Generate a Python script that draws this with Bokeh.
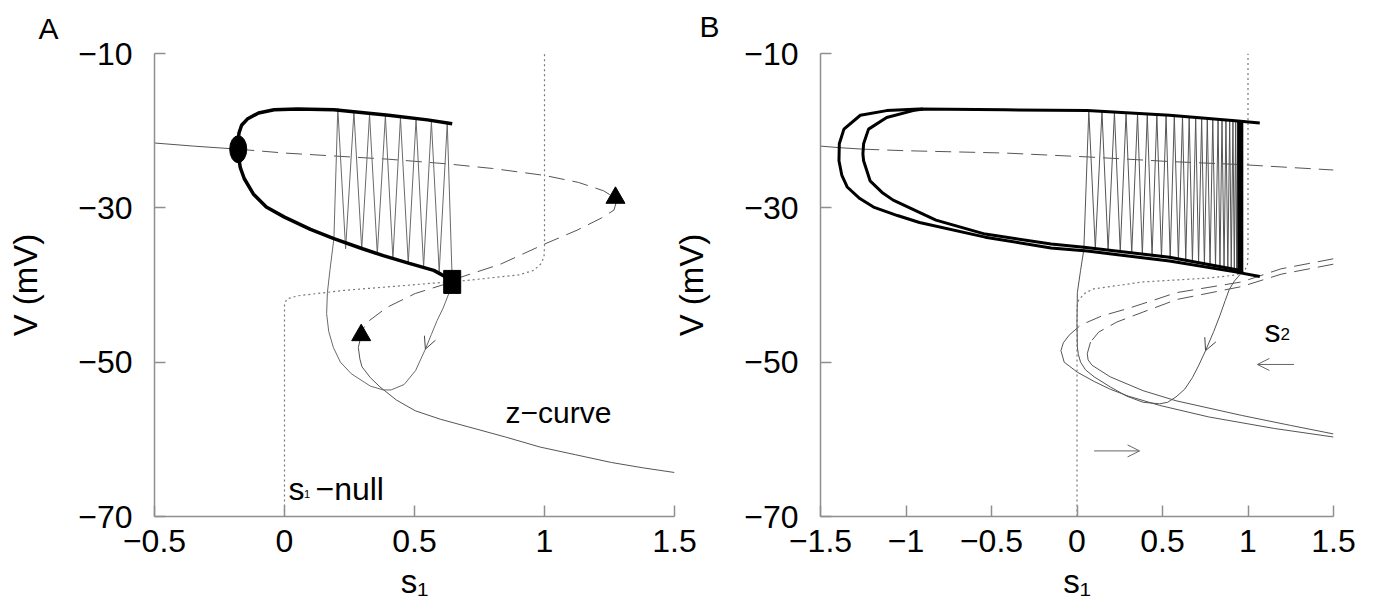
from bokeh.plotting import figure
from bokeh.layouts import row
from bokeh.models import Range1d, FixedTicker, Label, Arrow, OpenHead, Title
from bokeh.embed import file_html
from bokeh.resources import INLINE

FONT = "Liberation Sans"

# ---------------- Panel A data ----------------
a_xticks = [-0.5, 0, 0.5, 1, 1.5]
a_xticklabels = ["\u22120.5", "0", "0.5", "1", "1.5"]
yticks = [-70, -50, -30, -10]
yticklabels = ["\u221270", "\u221250", "\u221230", "\u221210"]

# thick periodic-orbit envelope
a_env_s = [0.645, 0.55, 0.40, 0.19, 0.05, -0.04, -0.10, -0.143, -0.165, -0.175, -0.179, -0.178,
           -0.176, -0.170, -0.155, -0.120, -0.070, 0.0, 0.10, 0.19, 0.30, 0.38, 0.48, 0.574, 0.645]
a_env_v = [-19.1, -18.6, -18.0, -17.3, -17.2, -17.3, -17.7, -18.5, -19.3, -20.3, -21.5, -22.4,
           -23.5, -24.8, -26.2, -28.2, -29.9, -31.2, -32.8, -34.0, -35.3, -36.2, -37.2, -38.1, -39.4]
# z-curve: stable upper, unstable middle (dashed), stable lower
a_zup_s = [-0.5, -0.35, -0.178]
a_zup_v = [-21.6, -22.0, -22.4]
a_zmid_s = [-0.178, 0.0, 0.2, 0.4, 0.625, 0.8, 1.0, 1.13, 1.228, 1.265, 1.275, 1.267, 1.22, 1.125,
            1.0, 0.831, 0.677, 0.645, 0.503, 0.394, 0.311, 0.295]
a_zmid_v = [-22.4, -22.9, -23.3, -23.7, -24.3, -24.9, -25.8, -26.7, -27.8, -28.6, -29.4, -30.3, -31.3, -32.9,
            -34.7, -37.3, -39.0, -39.6, -41.1, -42.9, -45.0, -46.5]
a_zlow_s = [0.295, 0.284, 0.29, 0.298, 0.33, 0.367, 0.43, 0.503, 0.6, 0.709, 0.85, 0.983, 1.12, 1.257, 1.38, 1.5]
a_zlow_v = [-46.5, -48.1, -49.6, -50.6, -52.0, -53.2, -54.9, -56.3, -57.4, -58.4, -59.7, -61.0, -62.0, -63.0, -63.7, -64.3]
# s1 nullcline
a_null_s = [0.0, 0.0, 0.01, 0.051, 0.229, 0.45, 0.702, 0.9, 0.959, 0.985, 0.998, 1.0, 1.0]
a_null_v = [-70, -42.4, -41.8, -41.4, -40.7, -40.1, -39.4, -38.7, -38.1, -37.3, -36.4, -35.0, -10]
# trajectory: silent phase
a_tr_s = [0.645, 0.632, 0.61, 0.587, 0.565, 0.542, 0.504, 0.46, 0.41, 0.38, 0.33, 0.257, 0.215, 0.188,
          0.17, 0.162, 0.165, 0.175, 0.19]
a_tr_v = [-39.6, -41.1, -43.0, -44.6, -46.4, -48.3, -51.1, -52.9, -53.6, -53.6, -53.1, -51.5, -50.0, -48.1,
          -46.0, -43.7, -41.0, -38.0, -34.0]
# trajectory: spikes (peaks and troughs)
a_spk_top_s = [0.205, 0.267, 0.327, 0.388, 0.446, 0.506, 0.565, 0.626]
a_spk_top_v = [-17.1, -17.6, -17.9, -18.1, -18.3, -18.5, -18.8, -19.0]
a_spk_bot_s = [0.235, 0.297, 0.357, 0.417, 0.476, 0.535, 0.595, 0.645]
a_spk_bot_v = [-35.3, -35.4, -36.0, -36.6, -37.2, -37.7, -38.3, -39.4]
# special points
a_hopf = (-0.178, -22.4)
a_hc = (0.645, -39.6)
a_sn_s = [1.273, 0.295]
a_sn_v = [-28.7, -46.5]
a_arrow = (0.565, -46.4, 0.542, -48.3)

# ---------------- Panel B data ----------------
b_xticks = [-1.5, -1, -0.5, 0, 0.5, 1, 1.5]
b_xticklabels = ["\u22121.5", "\u22121", "\u22120.5", "0", "0.5", "1", "1.5"]

b_out_s = [1.069, 0.925, 0.541, 0.06, -0.421, -0.921, -1.113, -1.267, -1.363, -1.39, -1.392, -1.375, -1.344,
           -1.27, -1.19, -1.05, -0.921, -0.537, -0.152, 0.06, 0.541, 0.925, 1.069]
b_out_v = [-19.0, -18.7, -18.0, -17.4, -17.3, -17.2, -17.4, -18.0, -19.8, -21.7, -23.9, -25.8, -27.3,
           -28.8, -29.9, -31.0, -31.9, -33.8, -35.2, -35.6, -36.9, -38.3, -38.9]
b_in_s = [-0.9, -0.959, -1.113, -1.219, -1.248, -1.252, -1.248, -1.21, -1.14, -1.075, -0.825, -0.537, -0.152,
          0.04, 0.541, 0.95]
b_in_v = [-17.2, -17.4, -18.3, -19.8, -21.7, -23.0, -23.9, -26.5, -28.0, -29.0, -31.6, -33.4, -34.7,
          -35.1, -36.4, -38.1]
b_bar_s = [0.955, 0.955]
b_bar_v = [-18.7, -38.5]
b_zup_s = [-1.5, -1.392, -1.25]
b_zup_v = [-22.0, -22.2, -22.4]
b_zupd_s = [-1.25, -1.0, -0.421, 0.06, 0.541, 0.963, 1.5]
b_zupd_v = [-22.4, -22.6, -22.9, -23.4, -24.0, -24.4, -25.1]
b_z1d_s = [1.5, 1.194, 0.963, 0.579, 0.444, 0.29, 0.146, 0.021, -0.046]
b_z1d_v = [-36.6, -37.9, -39.6, -41.0, -42.0, -43.1, -44.0, -45.2, -46.5]
b_z1_s = [-0.046, -0.08, -0.094, -0.075, 0.002, 0.1, 0.194, 0.3, 0.483, 0.771, 1.156, 1.5]
b_z1_v = [-46.5, -47.5, -48.5, -50.0, -51.3, -52.5, -53.5, -54.4, -55.6, -57.1, -58.6, -59.7]
b_z2d_s = [1.5, 1.194, 0.963, 0.579, 0.521, 0.387, 0.233, 0.127, 0.079]
b_z2d_v = [-37.3, -38.6, -40.2, -41.9, -42.4, -43.5, -44.8, -46.1, -47.4]
b_z2_s = [0.079, 0.06, 0.065, 0.088, 0.194, 0.387, 0.579, 0.963, 1.25, 1.5]
b_z2_v = [-47.4, -48.9, -49.7, -50.4, -51.9, -53.7, -55.0, -56.9, -58.2, -59.3]
b_null_s = [0.0, 0.0, 0.01, 0.05, 0.098, 0.387, 0.771, 0.93, 0.98, 0.997, 1.0, 1.0]
b_null_v = [-70, -42.8, -41.9, -41.0, -40.5, -39.6, -39.1, -38.7, -38.2, -37.3, -36.0, -10]
b_tr_s = [0.955, 0.92, 0.89, 0.867, 0.835, 0.8, 0.752, 0.71, 0.675, 0.63, 0.579, 0.53, 0.483, 0.387, 0.29,
          0.194, 0.1, 0.05, 0.021, 0.008, 0.002, 0.0, 0.002, 0.021, 0.04]
b_tr_v = [-38.6, -39.5, -40.6, -42.0, -44.0, -46.0, -48.5, -50.5, -52.0, -53.5, -54.5, -55.2, -55.4, -55.2, -54.4,
          -53.2, -51.9, -51.0, -50.0, -49.0, -48.0, -45.0, -41.0, -38.1, -35.4]
b_spk_top_s = [0.069, 0.146, 0.219, 0.287, 0.354, 0.411, 0.467, 0.521, 0.569, 0.617, 0.656, 0.694, 0.729,
               0.762, 0.794, 0.825, 0.848, 0.871, 0.893, 0.912, 0.928, 0.94]
b_spk_top_v = [-17.4, -17.5, -17.6, -17.7, -17.8, -17.85, -17.9, -18.0, -18.05, -18.15, -18.2, -18.3, -18.35,
               -18.45, -18.5, -18.55, -18.6, -18.65, -18.7, -18.7, -18.7, -18.7]
b_spk_bot_s = [0.107, 0.182, 0.253, 0.32, 0.382, 0.439, 0.494, 0.545, 0.593, 0.636, 0.675, 0.711, 0.745,
               0.778, 0.81, 0.836, 0.86, 0.882, 0.902, 0.92, 0.934, 0.947]
b_spk_bot_v = [-35.3, -35.5, -35.7, -35.9, -36.1, -36.3, -36.5, -36.6, -36.8, -36.9, -37.1, -37.2, -37.4,
               -37.5, -37.6, -37.7, -37.8, -37.9, -38.0, -38.1, -38.2, -38.3]
b_arrows = [(1.269, -50.3, 1.055, -50.3), (0.1, -61.5, 0.366, -61.5)]
b_tr_arrow = (0.8, -46.0, 0.752, -48.5)


def spikes(ts, tv, bs, bv):
    xs, ys = [], []
    for a, b, c, d in zip(ts, tv, bs, bv):
        xs += [a, c]
        ys += [b, d]
    return xs, ys


def make_fig(xr, xticks, xlabels, width, bl, br, **kw):
    p = figure(width=width, height=616, x_range=Range1d(*xr), y_range=Range1d(-70, -10),
               output_backend="svg", toolbar_location=None,
               min_border_left=bl, min_border_right=br, min_border_top=53, min_border_bottom=100, **kw)
    p.grid.visible = False
    p.outline_line_color = None
    for ax in (p.xaxis[0], p.yaxis[0]):
        ax.axis_line_color = "#8f8f8f"
        ax.axis_line_width = 1.5
        ax.major_tick_line_color = "#8f8f8f"
        ax.major_tick_line_width = 1.5
        ax.major_tick_in = 11
        ax.major_tick_out = 0
        ax.minor_tick_line_color = None
        ax.major_label_text_font = FONT
        ax.major_label_text_font_size = "32px"
        ax.major_label_text_color = "black"
        ax.axis_label_text_font = FONT
        ax.axis_label_text_font_size = "33px"
        ax.axis_label_text_font_style = "normal"
        ax.axis_label_text_color = "black"
    p.xaxis.ticker = FixedTicker(ticks=xticks)
    p.xaxis.major_label_overrides = {t: l for t, l in zip(xticks, xlabels)}
    p.yaxis.ticker = FixedTicker(ticks=yticks)
    p.yaxis.major_label_overrides = {t: l for t, l in zip(yticks, yticklabels)}
    p.xaxis.axis_label = "s\u2081"
    p.yaxis.axis_label = "V (mV)"
    p.xaxis.major_label_standoff = 13
    p.xaxis.axis_label_standoff = 8
    p.yaxis.major_label_standoff = 22
    p.yaxis.axis_label_standoff = 31
    return p


def panel_letter(p, letter, offset, standoff):
    p.add_layout(Title(text=letter, align="left", offset=offset, standoff=standoff,
                       vertical_align="top", text_font=FONT, text_font_size="30px",
                       text_font_style="normal", text_color="black"), "above")


def txt(p, x, y, t, size):
    p.add_layout(Label(x=x, y=y, text=t, text_font=FONT, text_font_size=size,
                       text_color="black", text_baseline="alphabetic"))


THIN = "#555555"

# ---------------- Panel A ----------------
pA = make_fig((-0.5, 1.5), a_xticks, a_xticklabels, 700, 154, 26)
panel_letter(pA, "A", -116, 14)
pA.line(a_null_s, a_null_v, line_color="#777777", line_width=1.2, line_dash="2 3")
pA.line(a_zup_s, a_zup_v, line_color=THIN, line_width=1)
pA.line(a_zmid_s, a_zmid_v, line_color=THIN, line_width=1, line_dash="16 8")
pA.line(a_zlow_s, a_zlow_v, line_color=THIN, line_width=1)
sx, sy = spikes(a_spk_top_s, a_spk_top_v, a_spk_bot_s, a_spk_bot_v)
pA.line(a_tr_s + sx, a_tr_v + sy, line_color="#6a6a6a", line_width=1)
pA.line(a_env_s, a_env_v, line_color="black", line_width=3.5)
pA.ellipse(x=[a_hopf[0]], y=[a_hopf[1]], width=17, height=27, width_units="screen",
           height_units="screen", fill_color="black", line_color="black")
pA.rect(x=[a_hc[0]], y=[a_hc[1]], width=17, height=23, width_units="screen",
        height_units="screen", fill_color="black", line_color="black")
pA.scatter(a_sn_s, a_sn_v, marker="triangle", size=19, fill_color="black", line_color="black")
pA.add_layout(Arrow(end=OpenHead(size=12, line_color="#444444", line_width=1),
                    x_start=a_arrow[0], y_start=a_arrow[1], x_end=a_arrow[2], y_end=a_arrow[3],
                    line_alpha=0))
txt(pA, 0.85, -56.5, "z\u2212curve", "30px")
txt(pA, 0.015, -66.4, "s", "32px")
txt(pA, 0.075, -67.1, "1", "11px")
txt(pA, 0.119, -66.4, "\u2212null", "32px")

# ---------------- Panel B ----------------
pB = make_fig((-1.5, 1.5), b_xticks, b_xticklabels, 704, 143, 41, margin=(0, 0, 0, -30))
pB.background_fill_color = None
pB.border_fill_color = None
panel_letter(pB, "B", -121, 18)
pB.line(b_null_s, b_null_v, line_color="#777777", line_width=1.2, line_dash="2 3")
pB.line(b_zup_s, b_zup_v, line_color=THIN, line_width=1)
pB.line(b_zupd_s, b_zupd_v, line_color=THIN, line_width=1, line_dash="16 8")
pB.line(b_z1d_s, b_z1d_v, line_color=THIN, line_width=1, line_dash="16 8")
pB.line(b_z1_s, b_z1_v, line_color=THIN, line_width=1)
pB.line(b_z2d_s, b_z2d_v, line_color=THIN, line_width=1, line_dash="16 8")
pB.line(b_z2_s, b_z2_v, line_color=THIN, line_width=1)
sx, sy = spikes(b_spk_top_s, b_spk_top_v, b_spk_bot_s, b_spk_bot_v)
pB.line(b_tr_s + sx, b_tr_v + sy, line_color="#555555", line_width=1)
pB.line(b_out_s, b_out_v, line_color="black", line_width=3)
pB.line(b_in_s, b_in_v, line_color="black", line_width=3)
pB.line(b_bar_s, b_bar_v, line_color="black", line_width=6)
for (x0, y0, x1, y1) in b_arrows:
    pB.add_layout(Arrow(end=OpenHead(size=12, line_color="#666666", line_width=1),
                        x_start=x0, y_start=y0, x_end=x1, y_end=y1,
                        line_color="#666666", line_width=1))
pB.add_layout(Arrow(end=OpenHead(size=12, line_color="#444444", line_width=1),
                    x_start=b_tr_arrow[0], y_start=b_tr_arrow[1], x_end=b_tr_arrow[2],
                    y_end=b_tr_arrow[3], line_alpha=0))
txt(pB, 1.096, -45.9, "s", "32px")
txt(pB, 1.19, -46.4, "2", "17px")

layout = row(pA, pB)
open("out.html", "w").write(file_html(layout, INLINE))
